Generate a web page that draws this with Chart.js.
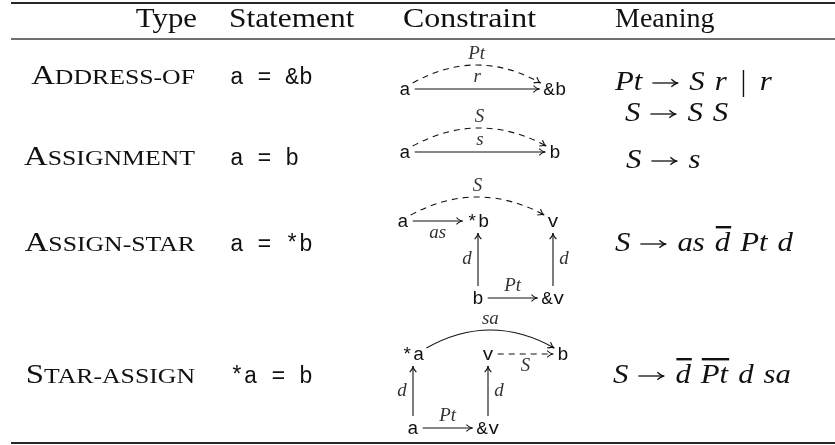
<!DOCTYPE html>
<html>
<head>
<meta charset="utf-8">
<script src="https://cdn.jsdelivr.net/npm/chart.js@4.4.1/dist/chart.umd.min.js"></script>
<style>
  html, body { margin: 0; padding: 0; background: #fff; }
  canvas { display: block; }
</style>
</head>
<body>
<canvas id="table-chart" width="835" height="445"></canvas>
<script>
// table content
const headers = ['Type', 'Statement', 'Constraint', 'Meaning'];
const types = ['Address-of', 'Assignment', 'Assign-star', 'Star-assign'];
const statements = ['a = &b', 'a = b', 'a = *b', '*a = b'];

// grammar rules, one token list per line ("~" = overlined)
const meanings = [
    ['Pt', '→', 'S', 'r', '|', 'r'],
    ['S', '→', 'S', 'S'],
    ['S', '→', 's'],
    ['S', '→', 'as', '~d', 'Pt', 'd'],
    ['S', '→', '~d', '~Pt', 'd', 'sa']
];

// constraint graphs: nodes are [label, col, row], edges are [from, to, label, kind, side]
const graphNodes = [
    [['a', 0, 0], ['&b', 2, 0]],
    [['a', 0, 0], ['b', 2, 0]],
    [['a', 0, 0], ['*b', 1, 0], ['v', 2, 0], ['b', 1, 1], ['&v', 2, 1]],
    [['*a', 0, 0], ['v', 1, 0], ['b', 2, 0], ['a', 0, 1], ['&v', 1, 1]]
];
const graphEdges = [
    [[0, 1, 'r', 'line', 'above'], [0, 1, 'Pt', 'dashArc', 'above']],
    [[0, 1, 's', 'line', 'above'], [0, 1, 'S', 'dashArc', 'above']],
    [[0, 1, 'as', 'line', 'below'], [0, 2, 'S', 'dashArc', 'above'], [3, 1, 'd', 'line', 'left'],
     [3, 4, 'Pt', 'line', 'above'], [4, 2, 'd', 'line', 'right']],
    [[0, 2, 'sa', 'arc', 'above'], [1, 2, 'S', 'dash', 'below'], [3, 0, 'd', 'line', 'left'],
     [3, 4, 'Pt', 'line', 'above'], [4, 1, 'd', 'line', 'right']]
];

// layout (pixels on a 835 x 445 axis)
const ruleX = [11, 835];
const rules = [[3, 1.8], [39, 1.2], [443, 1.8]];
const headerY = 27;
const rowY = [84, 165, 251, 383];
const meaningPos = [[615, 90], [625, 121], [626, 168], [615, 251], [613, 383]];
const graphOrigin = [[405, 89], [405, 152], [403, 221], [413, 354]];
const gridStep = [[75, 0], [75, 0], [75, 77], [75, 74]];

const SERIF = '"Liberation Serif", "DejaVu Serif", serif';
const MONO = '"Liberation Mono", "DejaVu Sans Mono", monospace';
const INK = '#111';
const STRETCH = 1.1;

// node points go through the chart's scales
const nodePoints = [];
graphNodes.forEach((nodes, g) => {
    nodes.forEach(n => {
        nodePoints.push({
            x: graphOrigin[g][0] + n[1] * gridStep[g][0],
            y: graphOrigin[g][1] + n[2] * gridStep[g][1]
        });
    });
});

function txt(ctx, s, x, y, font, align, sx) {
    ctx.save();
    ctx.font = font;
    const w = ctx.measureText(s).width * sx;
    const x0 = align === 'center' ? x - w / 2 : align === 'right' ? x - w : x;
    ctx.translate(x0, y);
    ctx.scale(sx, 1);
    ctx.textAlign = 'left';
    ctx.fillText(s, 0, 0);
    ctx.restore();
    return w;
}

function smallCaps(ctx, s, xRight, y, size, sx) {
    const big = size + 'px ' + SERIF, small = Math.round(size * 0.8) + 'px ' + SERIF;
    ctx.font = big;
    let w = ctx.measureText(s[0].toUpperCase()).width;
    ctx.font = small;
    w = (w + ctx.measureText(s.slice(1).toUpperCase()).width) * sx;
    let x = xRight - w;
    x += txt(ctx, s[0].toUpperCase(), x, y, big, 'left', sx);
    txt(ctx, s.slice(1).toUpperCase(), x, y, small, 'left', sx);
}

function arrowHead(ctx, x, y, ang, len) {
    ctx.save();
    ctx.setLineDash([]);
    ctx.beginPath();
    ctx.moveTo(x - len * Math.cos(ang - 0.5), y - len * Math.sin(ang - 0.5));
    ctx.quadraticCurveTo(x - len * 0.35 * Math.cos(ang), y - len * 0.35 * Math.sin(ang), x, y);
    ctx.quadraticCurveTo(x - len * 0.35 * Math.cos(ang), y - len * 0.35 * Math.sin(ang),
        x - len * Math.cos(ang + 0.5), y - len * Math.sin(ang + 0.5));
    ctx.stroke();
    ctx.restore();
}

function drawMath(ctx, tokens, x, y) {
    let cx = x;
    tokens.forEach((tk, i) => {
        if (i > 0) cx += (tk === '|' || tokens[i - 1] === '|') ? 14 : 10;
        if (tk === '→') {
            ctx.save();
            ctx.lineWidth = 1.3;
            ctx.beginPath();
            ctx.moveTo(cx, y - 7);
            ctx.lineTo(cx + 25, y - 7);
            ctx.stroke();
            arrowHead(ctx, cx + 26, y - 7, 0, 8);
            ctx.restore();
            cx += 27;
        } else if (tk === '|') {
            ctx.fillRect(cx + 2, y - 20, 1.4, 27);
            cx += 5;
        } else {
            const over = tk[0] === '~';
            const s = over ? tk.slice(1) : tk;
            const w = txt(ctx, s, cx, y, 'italic 28px ' + SERIF, 'left', STRETCH);
            if (over) ctx.fillRect(cx + 1, y - 25, w, 2.4);
            cx += w;
        }
    });
}

const tablePlugin = {
    id: 'tablePlugin',
    afterDatasetsDraw(chart) {
        const ctx = chart.ctx;
        const xs = chart.scales.x, ys = chart.scales.y;
        const pts = chart.getDatasetMeta(0).data;
        const X = v => xs.getPixelForValue(v), Y = v => ys.getPixelForValue(v);
        ctx.save();
        ctx.fillStyle = INK;
        ctx.strokeStyle = INK;
        ctx.textBaseline = 'alphabetic';

        // booktabs rules
        rules.forEach(r => {
            ctx.fillRect(X(ruleX[0]), Y(r[0]) - r[1] / 2, X(ruleX[1]) - X(ruleX[0]), r[1]);
        });

        // header
        const hf = '28px ' + SERIF;
        txt(ctx, headers[0], X(197), Y(headerY), hf, 'right', 1.1);
        txt(ctx, headers[1], X(229), Y(headerY), hf, 'left', 1.12);
        txt(ctx, headers[2], X(403), Y(headerY), hf, 'left', 1.14);
        txt(ctx, headers[3], X(615), Y(headerY), hf, 'left', 1.0);

        // rows
        types.forEach((t, i) => {
            smallCaps(ctx, t, X(195), Y(rowY[i]), 28, 1.17);
            txt(ctx, statements[i], X(230), Y(rowY[i]), '23px ' + MONO, 'left', 1);
        });

        meanings.forEach((m, i) => drawMath(ctx, m, X(meaningPos[i][0]), Y(meaningPos[i][1])));

        // constraint graphs
        ctx.lineWidth = 1.1;
        let offset = 0;
        graphNodes.forEach((nodes, g) => {
            ctx.font = '19px ' + MONO;
            const P = nodes.map((n, k) => ({
                x: pts[offset + k].x, y: pts[offset + k].y,
                hw: ctx.measureText(n[0]).width / 2, label: n[0]
            }));
            offset += nodes.length;

            P.forEach(p => {
                ctx.save();
                ctx.textBaseline = 'middle';
                txt(ctx, p.label, p.x, p.y + 1, '19px ' + MONO, 'center', 1);
                ctx.restore();
            });

            graphEdges[g].forEach(e => {
                const a = P[e[0]], b = P[e[1]];
                const kind = e[3];
                let lx, ly;
                ctx.save();
                ctx.setLineDash(kind === 'dashArc' || kind === 'dash' ? [6, 5] : []);
                ctx.beginPath();
                if (kind === 'dashArc' || kind === 'arc') {
                    const sx = a.x + a.hw + 2, sy = a.y - 6;
                    const ex = b.x - b.hw - 3, ey = b.y - 6;
                    const cx = (sx + ex) / 2, cy = a.y - 42;
                    ctx.moveTo(sx, sy);
                    ctx.quadraticCurveTo(cx, cy, ex, ey);
                    ctx.stroke();
                    arrowHead(ctx, ex, ey, Math.atan2(ey - cy, ex - cx), 7);
                    lx = cx;
                    ly = a.y - 35;
                } else if (a.y === b.y) {
                    const sx = a.x + a.hw + 4, ex = b.x - b.hw - 4;
                    ctx.moveTo(sx, a.y);
                    ctx.lineTo(ex, a.y);
                    ctx.stroke();
                    arrowHead(ctx, ex, a.y, 0, 7);
                    lx = (sx + ex) / 2;
                    ly = a.y + (e[4] === 'below' ? 12 : -12);
                } else {
                    const sy = a.y - 12, ey = b.y + 12;
                    ctx.moveTo(a.x, sy);
                    ctx.lineTo(a.x, ey);
                    ctx.stroke();
                    arrowHead(ctx, a.x, ey, -Math.PI / 2, 7);
                    lx = a.x + (e[4] === 'left' ? -11 : 11);
                    ly = (sy + ey) / 2;
                }
                ctx.restore();
                ctx.save();
                ctx.fillStyle = '#333';
                ctx.textBaseline = 'middle';
                txt(ctx, e[2], lx, ly, 'italic 18px ' + SERIF, 'center', 1.05);
                ctx.restore();
            });
        });
        ctx.restore();
    }
};

new Chart(document.getElementById('table-chart'), {
    type: 'scatter',
    data: {
        datasets: [{
            data: nodePoints,
            pointRadius: 0,
            pointHoverRadius: 0
        }]
    },
    options: {
        responsive: false,
        animation: false,
        events: [],
        layout: { padding: 0 },
        plugins: {
            legend: { display: false },
            tooltip: { enabled: false }
        },
        scales: {
            x: { type: 'linear', min: 0, max: 835, display: false },
            y: { type: 'linear', min: 0, max: 445, reverse: true, display: false }
        }
    },
    plugins: [tablePlugin]
});
</script>
</body>
</html>
